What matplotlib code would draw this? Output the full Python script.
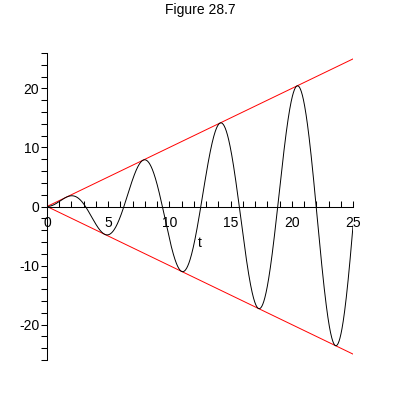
import numpy as np
import matplotlib
matplotlib.use("Agg")
from matplotlib import pyplot as plt

plt.rcParams['font.family'] = ['Liberation Sans', 'DejaVu Sans']
plt.rcParams['axes.unicode_minus'] = False

# plotted expression: t*sin(t) between the envelopes t and -t
t_start, t_end = 0.0, 25.0
t = np.linspace(t_start, t_end, 1500)
curve = t * np.sin(t)
upper = t
lower = -t

xticks_major = [0, 5, 10, 15, 20, 25]
yticks_major = [-20, -10, 0, 10, 20]

fig = plt.figure(figsize=(4, 4), dpi=100)
ax = fig.add_axes([47/400, 40/400, 306/400, 307/400])

ax.plot(t, upper, color='red', lw=0.7)
ax.plot(t, lower, color='red', lw=0.7)
ax.plot(t, curve, color='black', lw=0.7)

ax.set_xlim(0, 25)
ax.set_ylim(-26, 26)

ax.spines['left'].set_position(('data', 0))
ax.spines['bottom'].set_position(('data', 0))
ax.spines['right'].set_visible(False)
ax.spines['top'].set_visible(False)
for s in ('left', 'bottom'):
    ax.spines[s].set_linewidth(0.75)

ax.set_xticks(xticks_major)
ax.set_xticks(np.arange(0, 26, 1), minor=True)
ax.set_yticks(yticks_major)
ax.set_yticks(np.arange(-26, 27, 2), minor=True)

ax.tick_params(axis='x', which='both', direction='in', length=4, width=0.75, pad=7, labelsize=10)
ax.tick_params(axis='y', which='both', direction='out', length=4, width=0.75, pad=1.5, labelsize=10)

ax.text(12.5, -6.1, 't', ha='center', va='center', fontsize=10)
fig.text(0.5, 1 - 10/400, 'Figure 28.7', ha='center', va='center', fontsize=10)

fig.savefig('out.png', dpi=100)
